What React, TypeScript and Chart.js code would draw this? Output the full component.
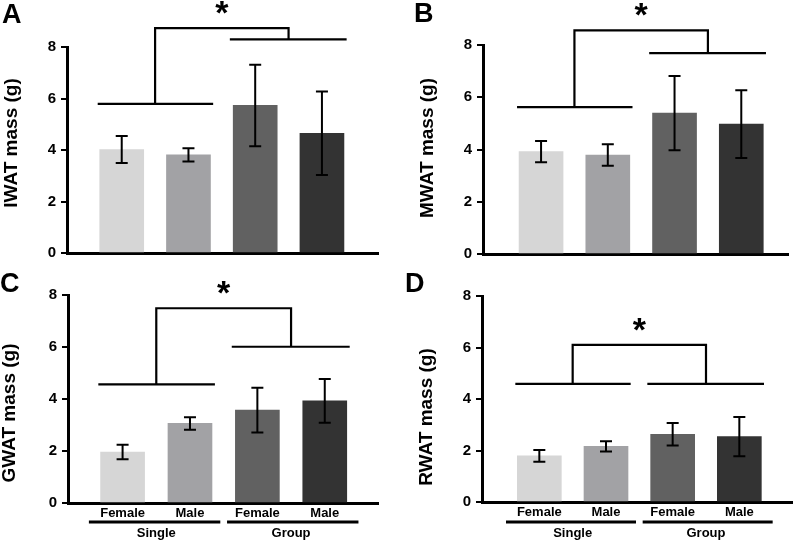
import React, { useEffect, useRef } from "react";
import { Chart, registerables } from "chart.js";

Chart.register(...registerables);

// ---------- data ----------
const CATEGORIES = ["Female", "Male", "Female", "Male"];
const GROUPS = ["Single", "Group"];
const Y_TICKS = [0, 2, 4, 6, 8];
const BAR_COLORS = ["#d6d6d6", "#a2a2a5", "#616161", "#333333"];

const IWAT_MEAN = [4.02, 3.81, 5.73, 4.65];
const IWAT_SEM = [0.52, 0.26, 1.58, 1.62];
const MWAT_MEAN = [3.92, 3.79, 5.39, 4.97];
const MWAT_SEM = [0.41, 0.41, 1.42, 1.3];
const GWAT_MEAN = [1.96, 3.06, 3.57, 3.93];
const GWAT_SEM = [0.28, 0.24, 0.86, 0.84];
const RWAT_MEAN = [1.79, 2.16, 2.63, 2.54];
const RWAT_SEM = [0.23, 0.2, 0.44, 0.76];

// significance bracket levels (g): [Single line, Group line, bracket top]
const IWAT_SIG = [5.79, 8.3, 8.73];
const MWAT_SIG = [5.62, 7.69, 8.56];
const GWAT_SIG = [4.56, 6.01, 7.49];
const RWAT_SIG = [4.59, 4.59, 6.1];

// ---------- layout ----------
const W = 400;
const H = 270;
const FONT = "Arial, 'Liberation Sans', Helvetica, sans-serif";

type Panel = {
  letter: string;
  title: string;
  mean: number[];
  sem: number[];
  sig: number[];
  left: number;
  top: number;
  area: { l: number; r: number; t: number; b: number };
  xMin: number;
  xMax: number;
  labels: boolean;
  letterPos: [number, number];
  titlePos: [number, number];
};

const PANELS: Panel[] = [
  {
    letter: "A", title: "IWAT mass (g)", mean: IWAT_MEAN, sem: IWAT_SEM, sig: IWAT_SIG,
    left: 0, top: 0, area: { l: 67, r: 378, t: 47, b: 253 }, xMin: -0.82, xMax: 3.84,
    labels: false, letterPos: [2, 2], titlePos: [12, 143],
  },
  {
    letter: "B", title: "MWAT mass (g)", mean: MWAT_MEAN, sem: MWAT_SEM, sig: MWAT_SIG,
    left: 400, top: 0, area: { l: 83, r: 388, t: 45, b: 254 }, xMin: -0.87, xMax: 3.7,
    labels: false, letterPos: [14, 1], titlePos: [28, 148],
  },
  {
    letter: "C", title: "GWAT mass (g)", mean: GWAT_MEAN, sem: GWAT_SEM, sig: GWAT_SIG,
    left: 0, top: 270, area: { l: 68, r: 378, t: 25, b: 233 }, xMin: -0.81, xMax: 3.79,
    labels: true, letterPos: [0, 1], titlePos: [10, 143],
  },
  {
    letter: "D", title: "RWAT mass (g)", mean: RWAT_MEAN, sem: RWAT_SEM, sig: RWAT_SIG,
    left: 400, top: 270, area: { l: 82, r: 392, t: 26, b: 232 }, xMin: -0.86, xMax: 3.79,
    labels: true, letterPos: [5, 1], titlePos: [27, 147],
  },
];

function PanelChart({ p }: { p: Panel }) {
  const ref = useRef<HTMLCanvasElement | null>(null);

  useEffect(() => {
    if (!ref.current) return;

    const annot = {
      id: "annot",
      afterDatasetsDraw(chart: any) {
        const ctx = chart.ctx;
        const xs = chart.scales.x;
        const ys = chart.scales.y;
        ctx.save();
        ctx.strokeStyle = "#000";
        ctx.lineWidth = 2;
        p.mean.forEach((m, i) => {
          const x = xs.getPixelForValue(i);
          const y1 = ys.getPixelForValue(m + p.sem[i]);
          const y2 = ys.getPixelForValue(m - p.sem[i]);
          ctx.beginPath();
          ctx.moveTo(x, y1);
          ctx.lineTo(x, y2);
          ctx.moveTo(x - 6, y1);
          ctx.lineTo(x + 6, y1);
          ctx.moveTo(x - 6, y2);
          ctx.lineTo(x + 6, y2);
          ctx.stroke();
        });
        ctx.restore();
      },
      afterDraw(chart: any) {
        const ctx = chart.ctx;
        const xs = chart.scales.x;
        const ys = chart.scales.y;
        const X = (v: number) => xs.getPixelForValue(v);
        const Y = (v: number) => ys.getPixelForValue(v);
        ctx.save();
        ctx.strokeStyle = "#000";
        ctx.fillStyle = "#000";
        ctx.lineWidth = 2.2;
        // group lines
        ctx.beginPath();
        ctx.moveTo(X(-0.36), Y(p.sig[0]));
        ctx.lineTo(X(1.37), Y(p.sig[0]));
        ctx.moveTo(X(1.62), Y(p.sig[1]));
        ctx.lineTo(X(3.37), Y(p.sig[1]));
        ctx.stroke();
        // bracket
        ctx.beginPath();
        ctx.moveTo(X(0.5), Y(p.sig[0]));
        ctx.lineTo(X(0.5), Y(p.sig[2]));
        ctx.lineTo(X(2.5), Y(p.sig[2]));
        ctx.lineTo(X(2.5), Y(p.sig[1]));
        ctx.stroke();
        // star
        ctx.font = `bold 34px ${FONT}`;
        ctx.textAlign = "center";
        ctx.textBaseline = "alphabetic";
        ctx.fillText("*", X(1.5), Y(p.sig[2]) - 4);

        // group underline + labels
        if (p.labels) {
          const yl = 252;
          ctx.lineWidth = 3;
          ctx.beginPath();
          ctx.moveTo(X(-0.5), yl);
          ctx.lineTo(X(1.45), yl);
          ctx.moveTo(X(1.55), yl);
          ctx.lineTo(X(3.5), yl);
          ctx.stroke();
          ctx.font = `bold 13px ${FONT}`;
          ctx.textBaseline = "middle";
          ctx.fillText(GROUPS[0], X(0.5), 263);
          ctx.fillText(GROUPS[1], X(2.5), 263);
        }

        // panel letter
        ctx.font = `bold 27px ${FONT}`;
        ctx.textAlign = "left";
        ctx.textBaseline = "top";
        ctx.fillText(p.letter, p.letterPos[0], p.letterPos[1]);

        // y title
        ctx.translate(p.titlePos[0], p.titlePos[1]);
        ctx.rotate(-Math.PI / 2);
        ctx.font = `bold 19px ${FONT}`;
        ctx.textAlign = "center";
        ctx.textBaseline = "middle";
        ctx.fillText(p.title, 0, 0);
        ctx.restore();
      },
    };

    const chart = new Chart(ref.current, {
      type: "bar",
      data: {
        datasets: [
          {
            data: p.mean.map((m, i) => ({ x: i, y: m })),
            backgroundColor: BAR_COLORS,
            borderWidth: 0,
            barThickness: 44,
          },
        ],
      },
      options: {
        responsive: false,
        animation: false,
        events: [],
        layout: {
          padding: { left: 0, top: p.area.t, right: W - p.area.r, bottom: 0 },
        },
        plugins: {
          legend: { display: false },
          tooltip: { enabled: false },
          title: { display: false },
        },
        scales: {
          x: {
            type: "linear",
            min: p.xMin,
            max: p.xMax,
            offset: false,
            grid: { display: false, drawTicks: false, tickLength: 0 },
            border: { display: true, color: "#000", width: 3 },
            afterBuildTicks: (s: any) => {
              s.ticks = CATEGORIES.map((_, i) => ({ value: i }));
            },
            afterFit: (s: any) => {
              s.height = H - p.area.b;
            },
            ticks: {
              display: p.labels,
              autoSkip: false,
              maxRotation: 0,
              padding: 3,
              color: "#000",
              font: { family: FONT, size: 13, weight: "bold" },
              callback: (v: any) => CATEGORIES[Math.round(Number(v))] ?? "",
            },
          },
          y: {
            type: "linear",
            min: 0,
            max: 8,
            afterBuildTicks: (s: any) => {
              s.ticks = Y_TICKS.map((v) => ({ value: v }));
            },
            afterFit: (s: any) => {
              s.width = p.area.l;
            },
            grid: {
              display: true,
              drawOnChartArea: false,
              drawTicks: true,
              tickLength: 6,
              color: "#000",
              lineWidth: 2,
            },
            border: { display: true, color: "#000", width: 3 },
            ticks: {
              padding: 5,
              color: "#000",
              font: { family: FONT, size: 15, weight: "bold" },
            },
          },
        },
      },
      plugins: [annot],
    } as any);

    return () => chart.destroy();
  }, [p]);

  return (
    <div style={{ position: "absolute", left: p.left, top: p.top, width: W, height: H }}>
      <canvas ref={ref} width={W} height={H} style={{ width: W, height: H, display: "block" }} />
    </div>
  );
}

export default function App() {
  return (
    <div
      style={{
        position: "fixed",
        left: 0,
        top: 0,
        width: 800,
        height: 540,
        background: "#fff",
        overflow: "hidden",
      }}
    >
      {PANELS.map((p) => (
        <PanelChart key={p.letter} p={p} />
      ))}
    </div>
  );
}
